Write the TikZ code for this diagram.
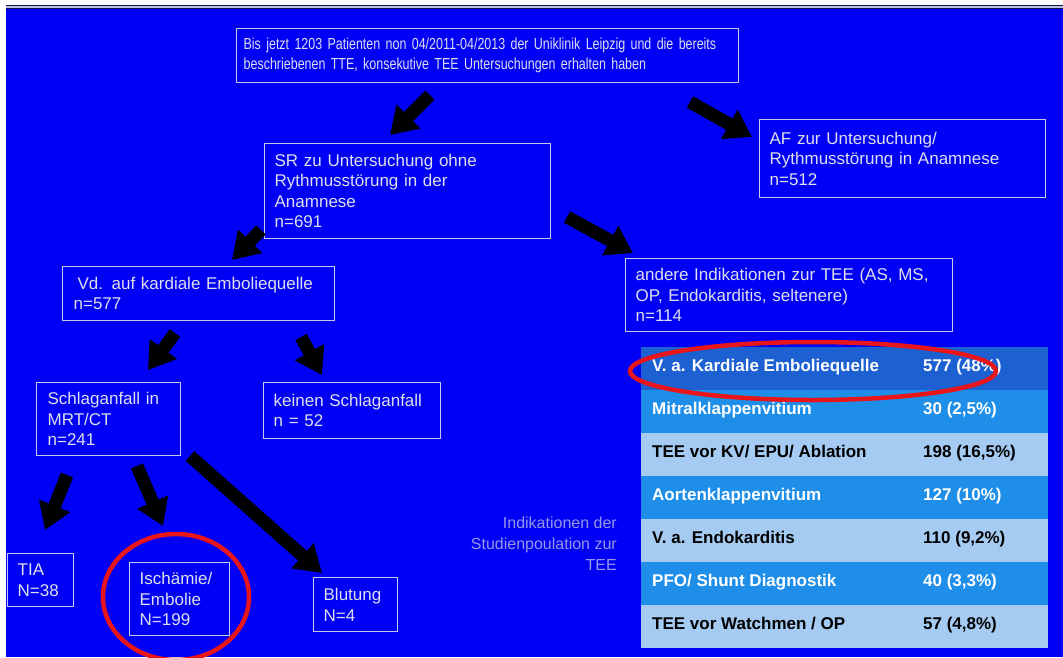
\documentclass[tikz,border=0pt]{standalone}
\usepackage{fontspec}
\setmainfont{Liberation Sans}
\newfontfamily\narrowfont[FakeStretch=0.78]{Liberation Sans}
\usetikzlibrary{arrows.meta}
\definecolor{bgblue}{RGB}{0,0,245}
\definecolor{boxline}{RGB}{200,200,230}
\definecolor{boxtext}{RGB}{222,222,236}
\definecolor{dimtext}{RGB}{150,150,230}
\definecolor{rowdark}{RGB}{28,96,210}
\definecolor{rowmid}{RGB}{30,142,232}
\definecolor{rowlight}{RGB}{166,203,242}
\definecolor{ringred}{RGB}{232,22,26}
\definecolor{topnavy}{RGB}{20,20,80}
\definecolor{toplight}{RGB}{190,195,225}
\tikzset{
  fbox/.style={draw=boxline, line width=1.3pt, text=boxtext, inner xsep=10pt, inner ysep=0pt,
    align=left, anchor=north west, font=\fontsize{17}{20.5}\selectfont},
  bigarrow/.style={draw=black, line width=13pt, -{Triangle[width=32pt,length=26pt]}},
  trow/.style={anchor=north west, minimum width=407pt, minimum height=43pt, inner sep=0pt, draw=none},
  tlab/.style={anchor=mid west, inner sep=0pt, font=\fontsize{17}{20}\selectfont\bfseries},
  ring/.style={draw=ringred, line width=4.5pt}
}
\begin{document}
\begin{tikzpicture}[x=1pt,y=-1pt]
\useasboundingbox (0,0) rectangle (1063,657);
\clip (0,0) rectangle (1063,657);
% background
\fill[white] (0,0) rectangle (1063,657);
\fill[bgblue] (6,9) rectangle (1063,657);
\fill[topnavy] (6,4.7) rectangle (1063,5.8);
\fill[toplight] (6,5.8) rectangle (1063,8);
\fill[topnavy] (6,8) rectangle (1063,9);

% boxes
\node[fbox, inner xsep=7pt, text width=488pt, minimum height=54pt,
      font=\narrowfont\fontsize{16}{20}\selectfont] (top) at (236,28)
  {Bis jetzt 1203 Patienten non 04/2011-04/2013 der Uniklinik Leipzig und die bereits\\
   beschriebenen TTE, konsekutive TEE Untersuchungen erhalten haben};
\node[fbox, text width=266pt, minimum height=78pt] (af) at (759,119)
  {AF zur Untersuchung/\\Rythmusstörung in Anamnese\\n=512};
\node[fbox, text width=266pt, minimum height=95pt] (sr) at (264,143)
  {SR zu Untersuchung ohne\\Rythmusstörung in der\\Anamnese\\n=691};
\node[fbox, inner xsep=11pt, text width=250pt, minimum height=54pt] (vd) at (62,266)
  {\hspace*{4pt}Vd. auf kardiale Emboliequelle\\n=577};
\node[fbox, text width=307pt, minimum height=73pt] (andere) at (625,258)
  {andere Indikationen zur TEE (AS, MS,\\OP, Endokarditis, seltenere)\\n=114};
\node[fbox, inner xsep=11pt, text width=122pt, minimum height=73pt] (schlag) at (36,382)
  {Schlaganfall in\\MRT/CT\\n=241};
\node[fbox, text width=157pt, minimum height=56pt] (keinen) at (263,382)
  {keinen Schlaganfall\\n = 52};
\node[fbox, text width=46pt, minimum height=53pt] (tia) at (7,553)
  {TIA\\N=38};
\node[fbox, text width=80pt, minimum height=73pt] (isch) at (129,562)
  {Ischämie/\\Embolie\\N=199};
\node[fbox, text width=64pt, minimum height=54pt] (blut) at (313,577)
  {Blutung\\N=4};

\node[anchor=north east, align=right, inner sep=0pt, text=dimtext,
      font=\fontsize{16}{21}\selectfont] (indik) at (617,517)
  {Indikationen der\\Studienpoulation zur\\TEE};

% table
\node[trow, fill=rowdark]  (r1) at (641,347) {};
\node[trow, fill=rowmid]   (r2) at (641,390) {};
\node[trow, fill=rowlight] (r3) at (641,433) {};
\node[trow, fill=rowmid]   (r4) at (641,476) {};
\node[trow, fill=rowlight] (r5) at (641,519) {};
\node[trow, fill=rowmid]   (r6) at (641,562) {};
\node[trow, fill=rowlight] (r7) at (641,605) {};

\node[tlab, text=white] (l1) at (652,368.5) {V. a. Kardiale Emboliequelle};
\node[tlab, text=white] (v1) at (923,368.5) {577 (48\%)};
\node[tlab, text=white] (l2) at (652,411.5) {Mitralklappenvitium};
\node[tlab, text=white] (v2) at (923,411.5) {30 (2,5\%)};
\node[tlab, text=black] (l3) at (652,454.5) {TEE vor KV/ EPU/ Ablation};
\node[tlab, text=black] (v3) at (923,454.5) {198 (16,5\%)};
\node[tlab, text=white] (l4) at (652,497.5) {Aortenklappenvitium};
\node[tlab, text=white] (v4) at (923,497.5) {127 (10\%)};
\node[tlab, text=black] (l5) at (652,540.5) {V. a. Endokarditis};
\node[tlab, text=black] (v5) at (923,540.5) {110 (9,2\%)};
\node[tlab, text=white] (l6) at (652,583.5) {PFO/ Shunt Diagnostik};
\node[tlab, text=white] (v6) at (923,583.5) {40 (3,3\%)};
\node[tlab, text=black] (l7) at (652,626.5) {TEE vor Watchmen / OP};
\node[tlab, text=black] (v7) at (923,626.5) {57 (4,8\%)};

% arrows
\coordinate (a1s) at (430,95);  \coordinate (a1e) at (390,135);
\coordinate (a2s) at (690,102); \coordinate (a2e) at (752,137);
\coordinate (a3s) at (261,230); \coordinate (a3e) at (232,260);
\coordinate (a4s) at (567,217); \coordinate (a4e) at (633,253);
\coordinate (a5s) at (175,333); \coordinate (a5e) at (148,370);
\coordinate (a6s) at (301,337); \coordinate (a6e) at (322,375);
\coordinate (a7s) at (67,475);  \coordinate (a7e) at (45,530);
\coordinate (a8s) at (137,466); \coordinate (a8e) at (163,526);
\coordinate (a9s) at (190,456); \coordinate (a9e) at (322,573);
\foreach \i in {1,...,9} { \draw[bigarrow] (a\i s) -- (a\i e); }

% red rings
\draw[ring] (813,371) ellipse [x radius=183pt, y radius=29pt];
\draw[ring] (176,597) ellipse [x radius=73pt, y radius=63pt];
\end{tikzpicture}
\end{document}
